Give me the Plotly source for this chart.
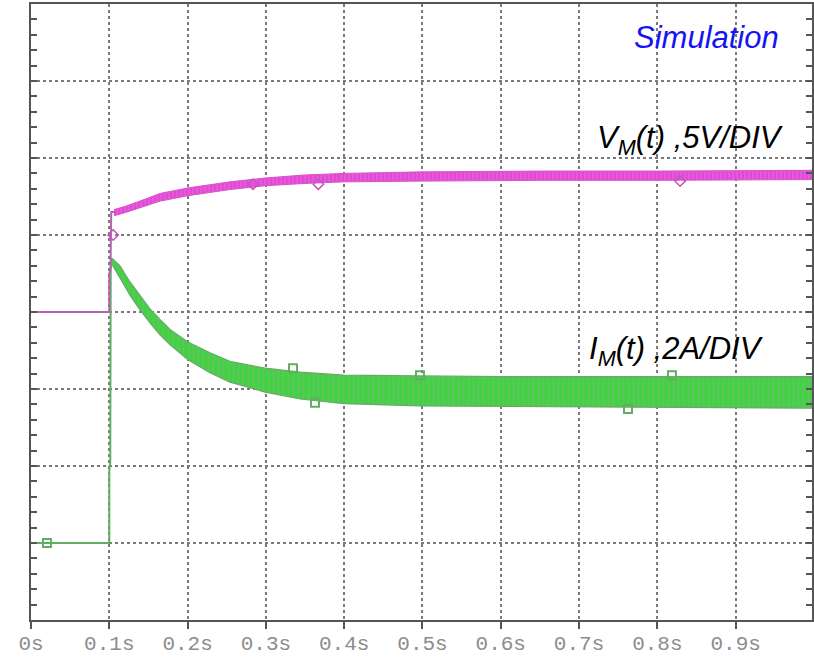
import plotly.graph_objects as go

# Time axis labels (seconds)
tick_vals = [0.0, 0.1, 0.2, 0.3, 0.4, 0.5, 0.6, 0.7, 0.8, 0.9]
tick_text = ["0s", "0.1s", "0.2s", "0.3s", "0.4s", "0.5s", "0.6s", "0.7s", "0.8s", "0.9s"]

# Vertical scale in screen divisions (0..8)
# --- V_M(t): step edge, then ripple band (upper / lower envelope)
vm_step_t = [0.0, 0.1, 0.1, 0.1015, 0.1025, 0.106]
vm_step_v = [4.0, 4.0, 4.5, 4.55, 5.30, 5.30]
vm_band_t = [0.106, 0.12, 0.139, 0.165, 0.2, 0.254, 0.299, 0.35, 0.4, 0.5, 0.65, 0.8, 0.9975]
vm_upper = [5.33, 5.37, 5.44, 5.54, 5.61, 5.69, 5.74, 5.78, 5.80, 5.82, 5.83, 5.83, 5.84]
vm_lower = [5.25, 5.29, 5.35, 5.44, 5.51, 5.59, 5.64, 5.67, 5.69, 5.70, 5.71, 5.71, 5.72]
vm_mark_t = [0.105, 0.2835, 0.367, 0.829]
vm_mark_v = [5.0, 5.66, 5.66, 5.70]

# --- I_M(t): step edge, then ripple band (upper / lower envelope)
im_step_t = [0.0, 0.1, 0.1, 0.1012, 0.1018, 0.1030]
im_step_v = [1.0, 1.0, 1.95, 2.05, 4.55, 4.70]
im_band_t = [0.1034, 0.1137, 0.1264, 0.139, 0.152, 0.165, 0.178, 0.2005, 0.2286,
             0.254, 0.299, 0.3436, 0.40, 0.497, 0.60, 0.73, 0.86, 0.9975]
im_upper = [4.70, 4.60, 4.39, 4.21, 4.04, 3.90, 3.77, 3.61, 3.47,
            3.36, 3.27, 3.22, 3.18, 3.17, 3.16, 3.16, 3.16, 3.16]
im_lower = [4.62, 4.45, 4.22, 4.03, 3.86, 3.70, 3.57, 3.38, 3.21,
            3.09, 2.96, 2.87, 2.81, 2.78, 2.77, 2.76, 2.76, 2.75]
im_mark_t = [0.0204, 0.3346, 0.3627, 0.4968, 0.7625, 0.8186]
im_mark_v = [1.0, 3.27, 2.82, 3.18, 2.74, 3.18]

GREEN_LINE = "#63ad63"
GREEN_FILL = "#3fd43f"
MAG_LINE = "#b463ad"
MAG_FILL = "#e24ad6"

fig = go.Figure()

# Current ripple band
fig.add_trace(go.Scatter(
    x=im_band_t + im_band_t[::-1],
    y=im_upper + im_lower[::-1],
    mode="lines", fill="toself",
    fillcolor=GREEN_FILL,
    fillpattern=dict(shape="|", bgcolor=GREEN_FILL, fgcolor="#8aae8a",
                     size=5, solidity=0.35),
    line=dict(color="#6aa86a", width=1.2),
    hoverinfo="skip", showlegend=False,
))
fig.add_trace(go.Scatter(
    x=im_step_t, y=im_step_v, mode="lines",
    line=dict(color=GREEN_LINE, width=2), showlegend=False,
))
fig.add_trace(go.Scatter(
    x=im_mark_t, y=im_mark_v, mode="markers",
    marker=dict(symbol="square-open", size=8, color=GREEN_LINE, line=dict(width=2)),
    showlegend=False,
))

# Voltage ripple band
fig.add_trace(go.Scatter(
    x=vm_band_t + vm_band_t[::-1],
    y=vm_upper + vm_lower[::-1],
    mode="lines", fill="toself",
    fillcolor=MAG_FILL,
    fillpattern=dict(shape="|", bgcolor=MAG_FILL, fgcolor="#ec7ae2",
                     size=4, solidity=0.3),
    line=dict(color="#d452ca", width=1),
    hoverinfo="skip", showlegend=False,
))
fig.add_trace(go.Scatter(
    x=vm_step_t, y=vm_step_v, mode="lines",
    line=dict(color=MAG_LINE, width=2), showlegend=False,
))
fig.add_trace(go.Scatter(
    x=vm_mark_t, y=vm_mark_v, mode="markers",
    marker=dict(symbol="diamond-open", size=8, color="#c455bc", line=dict(width=1.5)),
    showlegend=False,
))

label_font = dict(family="Liberation Sans, Arial, sans-serif", size=31, color="#000000")
fig.add_annotation(x=0.7676, y=7.57, xref="x", yref="y", text="<i>Simulation</i>",
                   showarrow=False, xanchor="left", yanchor="middle",
                   font=dict(family="Liberation Sans, Arial, sans-serif", size=31, color="#1414f5"))
fig.add_annotation(x=0.7203, y=6.24, xref="x", yref="y", text="<i>V<sub>M</sub>(t) ,5V/DIV</i>",
                   showarrow=False, xanchor="left", yanchor="middle", font=label_font)
fig.add_annotation(x=0.710, y=3.50, xref="x", yref="y", text="<i>I<sub>M</sub>(t) ,2A/DIV</i>",
                   showarrow=False, xanchor="left", yanchor="middle", font=label_font)

fig.update_layout(
    width=814, height=658,
    margin=dict(l=31, r=2, t=4, b=38, autoexpand=False),
    paper_bgcolor="white", plot_bgcolor="white",
    showlegend=False,
)
fig.update_xaxes(
    range=[0, 0.9975], tickvals=tick_vals, ticktext=tick_text, automargin=False,
    showgrid=True, gridcolor="#7a7a7a", gridwidth=1.5, griddash="dot",
    zeroline=False, showline=True, linecolor="#555555", linewidth=2, mirror=True,
    ticks="outside", ticklen=7, tickwidth=2, tickcolor="#555555",
    ticklabelstandoff=-4,
    tickfont=dict(family="Liberation Mono, Courier New, monospace", size=21, color="#8c8c8c"),
)
fig.update_yaxes(
    range=[0, 8], dtick=1, showticklabels=False, automargin=False,
    showgrid=True, gridcolor="#7a7a7a", gridwidth=1.5, griddash="dot",
    zeroline=False, showline=True, linecolor="#555555", linewidth=2, mirror="allticks",
    ticks="inside", ticklen=6, tickwidth=2, tickcolor="#555555",
    minor=dict(dtick=0.2, ticks="inside", ticklen=6, tickwidth=2, tickcolor="#555555", showgrid=False),
)

fig.write_html("out.html")
